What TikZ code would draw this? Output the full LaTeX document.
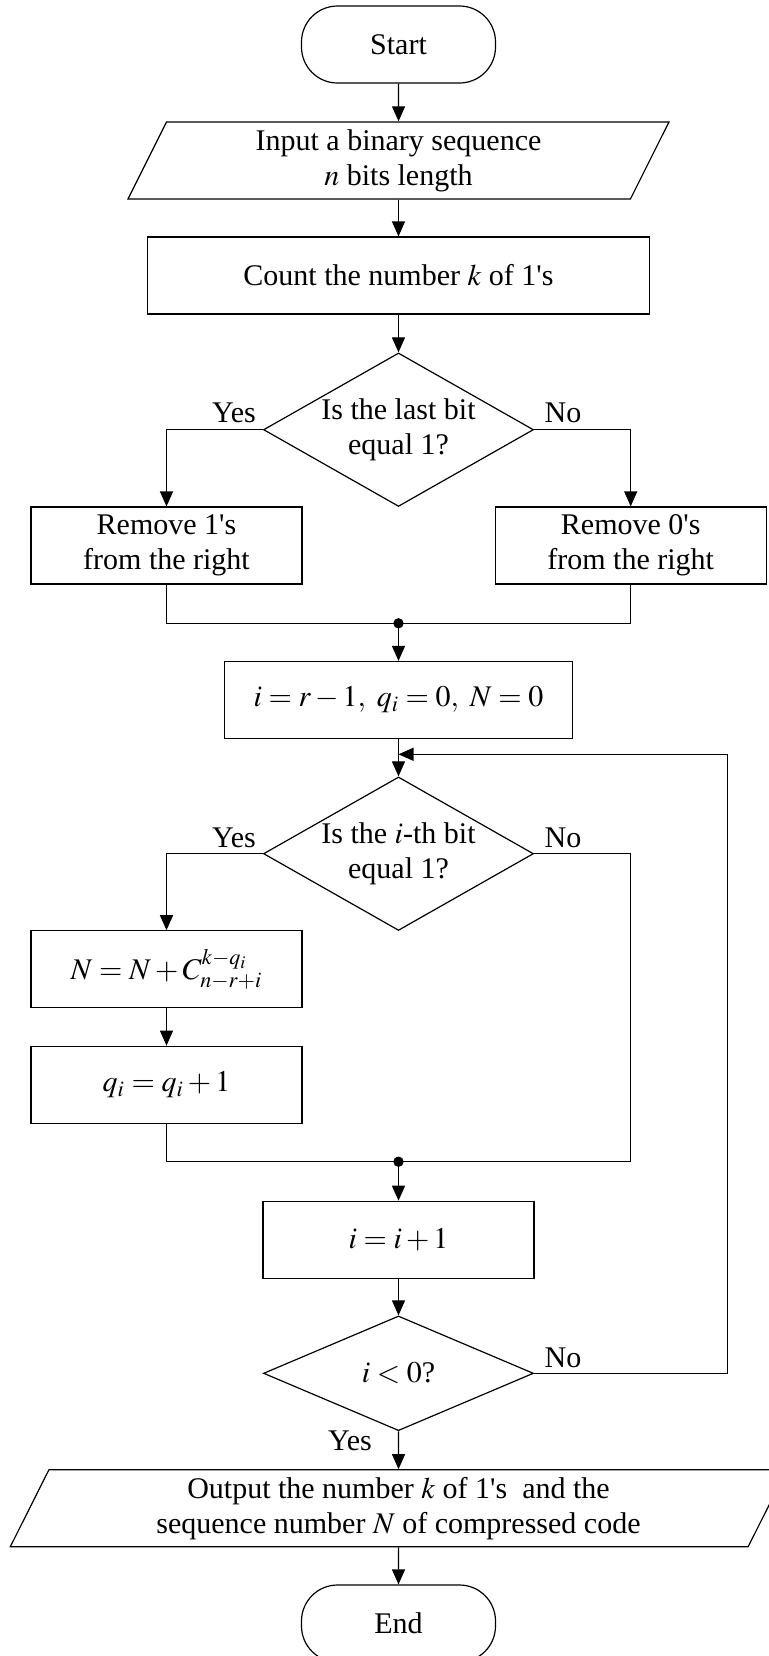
\documentclass[tikz,border=0pt]{standalone}
\usepackage{mathptmx}
\usepackage{fontspec}
\setmainfont{Liberation Serif}
\usetikzlibrary{shapes.geometric,arrows.meta}
\newcommand{\ap}{\textquotesingle}

\begin{document}
\begin{tikzpicture}[x=0.5pt,y=-0.5pt,line width=0.6pt,
    font=\fontsize{15}{17.5}\selectfont,
    every node/.style={align=center},
    term/.style={draw,rectangle,rounded corners=18pt,minimum width=97pt,minimum height=38.5pt},
    proc/.style={draw,rectangle,minimum width=#1,minimum height=38.5pt},
    proc/.default=135.5pt,
    io/.style={draw,trapezium,trapezium left angle=63,trapezium right angle=117,
      trapezium stretches body,minimum width=#1,minimum height=38.5pt},
    test/.style={draw,diamond,inner sep=0pt,minimum width=135pt},
    >={Triangle[length=7.5pt,width=6.5pt]}]
  \useasboundingbox (0,0) rectangle (769,1656);
  \draw
    (398.5,44.5) node[term] (start){Start}
    (398.5,160.4) node[io=270.5pt] (input){Input a binary sequence\\ $n$ bits length}
    (398.5,275.5) node[proc=251pt] (count){Count the number $k$ of 1\ap s}
    (398.5,429.7) node[test,aspect=1.76,minimum height=76.75pt] (test1){Is the last bit\\ equal 1?}
    (166.5,545.5) node[proc] (rm1){Remove 1\ap s\\ from the right}
    (630.7,545.5) node[proc] (rm0){Remove 0\ap s\\ from the right}
    (398.5,700) node[proc=174pt] (init){$i=r-1,\ q_i=0,\ N=0$}
    (398.5,853.7) node[test,aspect=1.76,minimum height=76.75pt] (test2){Is the $i$-th bit\\ equal 1?}
    (166.5,969.3) node[proc] (addn){$N=N+C_{n-r+i}^{k-q_i}$}
    (166.5,1084.7) node[proc] (incq){$q_i=q_i+1$}
    (398.5,1239.8) node[proc] (inci){$i=i+1$}
    (398.5,1373.3) node[test,aspect=2.35,minimum height=57.35pt] (test3){$i<0$?}
    (398.5,1508.3) node[io=388.25pt] (output){Output the number $k$ of 1\ap s\ \ and the\\ sequence number $N$ of compressed code}
    (398.5,1623.5) node[term] (end){End};
  % branch labels
  \node (yes1) at (234,413) {Yes};
  \node (no1) at (563,413) {No};
  \node (yes2) at (234,837.7) {Yes};
  \node (no2) at (563,837.7) {No};
  \node (no3) at (563,1358) {No};
  \node (yes3) at (350,1441) {Yes};
  % junctions
  \coordinate (join1) at (398.5,623.3);
  \coordinate (join2) at (398.5,1161.7);
  \coordinate (skip) at (630.5,1161.7);
  \coordinate (loopin) at (398.5,754.3);
  \coordinate (back) at (727.6,754.3);
  \fill (join1) circle[radius=2.6pt];
  \fill (join2) circle[radius=2.6pt];
  \begin{scope}[->]
    \draw (start) -- (input);
    \draw (input) -- (count);
    \draw (count) -- (test1);
    \draw (test1.west) -| (rm1.north);
    \draw (test1.east) -| (rm0.north);
    \draw (join1) -- (init);
    \draw (init) -- (test2);
    \draw (test2.west) -| (addn.north);
    \draw (addn) -- (incq);
    \draw (join2) -- (inci);
    \draw (inci) -- (test3);
    \draw (test3) -- (output);
    \draw (output) -- (end);
    \draw (test3.east) -| (back) -- (loopin);
  \end{scope}
  \draw (rm1.south) |- (join1) -| (rm0.south);
  \draw (incq.south) |- (join2);
  \draw (test2.east) -| (skip) -- (join2);
\end{tikzpicture}
\end{document}
